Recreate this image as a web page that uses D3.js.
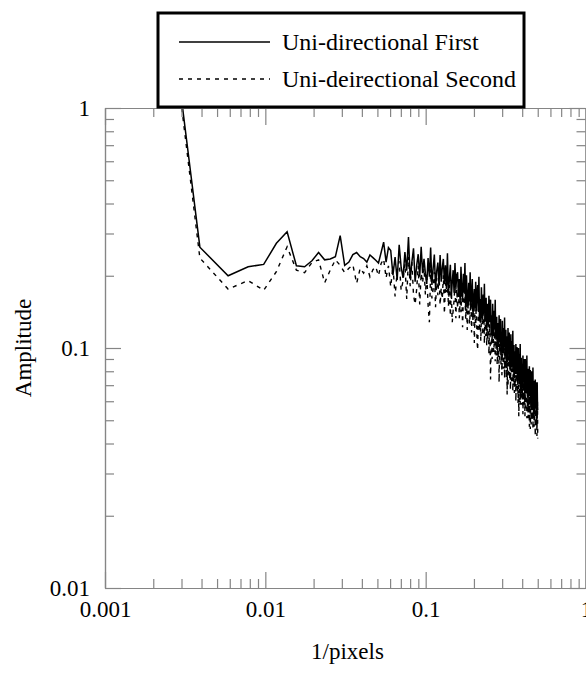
<!DOCTYPE html>
<html>
<head>
<meta charset="utf-8">
<script src="https://cdn.jsdelivr.net/npm/d3@7"></script>
<style>
  html, body { margin: 0; padding: 0; background: #fff; }
  svg { display: block; }
  text { font-family: "Liberation Serif", "Times New Roman", serif; fill: #000; }
</style>
</head>
<body>
<svg id="chart"></svg>
<script>
// FFT of a 512-pixel profile: bins k = 1..256, frequency k/512 (1/pixels)
const N_PIXELS = 512;

// Amplitude per bin (bin 1 lies above the frame)
const ampFirst = [
  11, 0.263, 0.200, 0.218, 0.223, 0.273, 0.305, 0.220, 0.218, 0.231,
  0.250, 0.233, 0.235, 0.240, 0.294, 0.221, 0.228, 0.245, 0.250, 0.240,
  0.236, 0.228, 0.244, 0.238, 0.232, 0.226, 0.250, 0.276, 0.228, 0.262,
  0.255, 0.201, 0.239, 0.192, 0.269, 0.217, 0.196, 0.251, 0.210, 0.290,
  0.194, 0.228, 0.260, 0.189, 0.221, 0.246, 0.198, 0.264, 0.205, 0.235,
  0.204, 0.185, 0.237, 0.198, 0.262, 0.183, 0.215, 0.245, 0.178, 0.209,
  0.227, 0.183, 0.244, 0.189, 0.216, 0.235, 0.185, 0.221, 0.176, 0.248,
  0.166, 0.195, 0.222, 0.162, 0.189, 0.211, 0.170, 0.226, 0.176, 0.201,
  0.207, 0.163, 0.194, 0.155, 0.218, 0.176, 0.159, 0.204, 0.170, 0.226,
  0.143, 0.201, 0.162, 0.146, 0.187, 0.156, 0.207, 0.145, 0.170, 0.194,
  0.135, 0.158, 0.176, 0.142, 0.189, 0.147, 0.168, 0.183, 0.143, 0.198,
  0.129, 0.160, 0.128, 0.179, 0.144, 0.131, 0.167, 0.140, 0.185, 0.129,
  0.142, 0.162, 0.118, 0.138, 0.153, 0.124, 0.165, 0.128, 0.146, 0.159,
  0.114, 0.137, 0.109, 0.153, 0.124, 0.112, 0.143, 0.120, 0.159, 0.111,
  0.118, 0.135, 0.098, 0.114, 0.127, 0.103, 0.137, 0.106, 0.122, 0.132,
  0.097, 0.116, 0.092, 0.130, 0.105, 0.095, 0.121, 0.101, 0.134, 0.094,
  0.104, 0.119, 0.086, 0.101, 0.112, 0.090, 0.121, 0.094, 0.107, 0.116,
  0.085, 0.102, 0.081, 0.114, 0.092, 0.083, 0.107, 0.089, 0.118, 0.082,
  0.090, 0.103, 0.075, 0.087, 0.097, 0.078, 0.104, 0.081, 0.093, 0.101,
  0.075, 0.089, 0.071, 0.100, 0.081, 0.073, 0.094, 0.078, 0.104, 0.072,
  0.080, 0.091, 0.066, 0.078, 0.086, 0.070, 0.093, 0.072, 0.082, 0.090,
  0.067, 0.080, 0.064, 0.090, 0.072, 0.065, 0.084, 0.070, 0.093, 0.065,
  0.072, 0.082, 0.060, 0.070, 0.078, 0.063, 0.084, 0.065, 0.074, 0.081,
  0.060, 0.071, 0.057, 0.080, 0.065, 0.058, 0.075, 0.063, 0.083, 0.058,
  0.064, 0.073, 0.053, 0.062, 0.069, 0.056, 0.074, 0.058, 0.066, 0.072,
  0.054, 0.064, 0.051, 0.072, 0.058, 0.055
];

const ampSecond = [
  11, 0.237, 0.176, 0.191, 0.174, 0.208, 0.264, 0.211, 0.206, 0.227,
  0.233, 0.187, 0.211, 0.233, 0.221, 0.206, 0.215, 0.222, 0.186, 0.215,
  0.205, 0.220, 0.198, 0.212, 0.218, 0.200, 0.225, 0.235, 0.196, 0.220,
  0.180, 0.220, 0.164, 0.208, 0.230, 0.174, 0.190, 0.224, 0.160, 0.240,
  0.181, 0.228, 0.166, 0.152, 0.176, 0.220, 0.152, 0.205, 0.187, 0.215,
  0.167, 0.204, 0.152, 0.128, 0.213, 0.161, 0.176, 0.207, 0.148, 0.196,
  0.166, 0.208, 0.151, 0.178, 0.160, 0.201, 0.139, 0.187, 0.171, 0.196,
  0.149, 0.183, 0.136, 0.173, 0.128, 0.144, 0.158, 0.186, 0.133, 0.176,
  0.146, 0.184, 0.133, 0.157, 0.141, 0.177, 0.122, 0.165, 0.151, 0.173,
  0.131, 0.160, 0.119, 0.151, 0.167, 0.126, 0.138, 0.162, 0.116, 0.154,
  0.128, 0.161, 0.105, 0.138, 0.124, 0.156, 0.108, 0.098, 0.132, 0.165,
  0.117, 0.143, 0.107, 0.135, 0.150, 0.113, 0.124, 0.146, 0.104, 0.138,
  0.112, 0.140, 0.102, 0.120, 0.108, 0.136, 0.094, 0.126, 0.115, 0.074,
  0.099, 0.121, 0.090, 0.114, 0.127, 0.096, 0.105, 0.123, 0.088, 0.117,
  0.093, 0.117, 0.085, 0.100, 0.090, 0.113, 0.072, 0.105, 0.096, 0.110,
  0.085, 0.103, 0.077, 0.098, 0.108, 0.082, 0.089, 0.105, 0.075, 0.100,
  0.082, 0.103, 0.075, 0.088, 0.064, 0.099, 0.069, 0.092, 0.084, 0.097,
  0.074, 0.090, 0.067, 0.085, 0.094, 0.071, 0.078, 0.092, 0.066, 0.087,
  0.072, 0.090, 0.065, 0.077, 0.069, 0.087, 0.060, 0.081, 0.074, 0.085,
  0.065, 0.079, 0.059, 0.075, 0.052, 0.063, 0.068, 0.081, 0.058, 0.076,
  0.063, 0.080, 0.058, 0.068, 0.061, 0.077, 0.053, 0.071, 0.065, 0.075,
  0.058, 0.070, 0.052, 0.067, 0.074, 0.056, 0.061, 0.072, 0.051, 0.068,
  0.056, 0.070, 0.051, 0.060, 0.054, 0.068, 0.047, 0.063, 0.058, 0.046,
  0.052, 0.064, 0.048, 0.060, 0.067, 0.050, 0.055, 0.065, 0.046, 0.061,
  0.051, 0.064, 0.047, 0.055, 0.050, 0.062, 0.043, 0.058, 0.053, 0.060,
  0.047, 0.057, 0.043, 0.054, 0.060, 0.042
];

const seriesNames = ['Uni-directional First', 'Uni-deirectional Second'];

const xMajor = [0.001, 0.01, 0.1, 1];
const yMajor = [0.01, 0.1, 1];
const xTickLabels = ['0.001', '0.01', '0.1', '1'];
const yTickLabels = ['0.01', '0.1', '1'];

// ── Geometry ────────────────────────────────────────────────────────────────
const W = 586, H = 673;
const plot = { left: 105, right: 586, top: 108, bottom: 588 };
const AXIS_GREY = '#858585';
const FONT = 23;

const svg = d3.select('#chart').attr('width', W).attr('height', H);

const x = d3.scaleLog().domain([0.001, 1]).range([plot.left, plot.right]);
const y = d3.scaleLog().domain([0.01, 1]).range([plot.bottom, plot.top]);

// minor ticks: 2..9 within every decade
function minors(lo, hi) {
  const out = [];
  for (let d = lo; d < hi; d *= 10) for (let m = 2; m <= 9; m++) out.push(d * m);
  return out;
}
const xMinor = minors(0.001, 1);
const yMinor = minors(0.01, 1);

// ── Data lines (clipped to the frame) ───────────────────────────────────────
svg.append('clipPath').attr('id', 'frame')
  .append('rect')
    .attr('x', plot.left).attr('y', plot.top)
    .attr('width', plot.right - plot.left).attr('height', plot.bottom - plot.top);

const toPoints = amps => amps.map((a, i) => ({ f: (i + 1) / N_PIXELS, a }));

const line = d3.line()
  .x(d => x(d.f))
  .y(d => y(d.a));

const lines = svg.append('g').attr('clip-path', 'url(#frame)');

lines.append('path')
  .datum(toPoints(ampSecond))
  .attr('d', line)
  .attr('fill', 'none')
  .attr('stroke', '#000')
  .attr('stroke-width', 1.4)
  .attr('stroke-dasharray', '4,5');

lines.append('path')
  .datum(toPoints(ampFirst))
  .attr('d', line)
  .attr('fill', 'none')
  .attr('stroke', '#000')
  .attr('stroke-width', 1.5);

// ── Axes: ticks point inward on all four sides ─────────────────────────────
function styleAxis(g) {
  g.selectAll('path.domain').attr('stroke', AXIS_GREY).attr('stroke-width', 1.2);
  g.selectAll('.tick line').attr('stroke', AXIS_GREY).attr('stroke-width', 1.2);
  g.selectAll('.tick text')
    .attr('font-family', '"Liberation Serif", "Times New Roman", serif')
    .attr('font-size', FONT)
    .attr('fill', '#000');
}

// bottom
svg.append('g').attr('transform', `translate(0,${plot.bottom})`)
  .call(d3.axisBottom(x).tickValues(xMinor).tickSize(-9).tickSizeOuter(0).tickFormat(''))
  .call(styleAxis);
svg.append('g').attr('transform', `translate(0,${plot.bottom})`)
  .call(d3.axisBottom(x).tickValues(xMajor).tickSize(-16).tickSizeOuter(0)
    .tickPadding(13).tickFormat((d, i) => xTickLabels[i]))
  .call(styleAxis);

// top
svg.append('g').attr('transform', `translate(0,${plot.top})`)
  .call(d3.axisTop(x).tickValues(xMinor).tickSize(-9).tickSizeOuter(0).tickFormat(''))
  .call(styleAxis);
svg.append('g').attr('transform', `translate(0,${plot.top})`)
  .call(d3.axisTop(x).tickValues(xMajor).tickSize(-17).tickSizeOuter(0).tickFormat(''))
  .call(styleAxis);

// left
svg.append('g').attr('transform', `translate(${plot.left},0)`)
  .call(d3.axisLeft(y).tickValues(yMinor).tickSize(-9).tickSizeOuter(0).tickFormat(''))
  .call(styleAxis);
svg.append('g').attr('transform', `translate(${plot.left},0)`)
  .call(d3.axisLeft(y).tickValues(yMajor).tickSize(-16).tickSizeOuter(0)
    .tickPadding(15).tickFormat((d, i) => yTickLabels[i]))
  .call(styleAxis);

// right
svg.append('g').attr('transform', `translate(${plot.right - 0.5},0)`)
  .call(d3.axisRight(y).tickValues(yMinor).tickSize(-9).tickSizeOuter(0).tickFormat(''))
  .call(styleAxis);
svg.append('g').attr('transform', `translate(${plot.right - 0.5},0)`)
  .call(d3.axisRight(y).tickValues(yMajor).tickSize(-16).tickSizeOuter(0).tickFormat(''))
  .call(styleAxis);

// ── Axis titles ─────────────────────────────────────────────────────────────
svg.append('text')
  .attr('x', (plot.left + plot.right) / 2 + 2)
  .attr('y', 659)
  .attr('text-anchor', 'middle')
  .attr('font-size', FONT)
  .text('1/pixels');

svg.append('text')
  .attr('transform', `translate(31,${(plot.top + plot.bottom) / 2}) rotate(-90)`)
  .attr('text-anchor', 'middle')
  .attr('font-size', FONT)
  .text('Amplitude');

// ── Legend box (sits on the top of the frame) ──────────────────────────────
const legend = svg.append('g');
legend.append('rect')
  .attr('x', 158).attr('y', 13)
  .attr('width', 366).attr('height', 94)
  .attr('fill', '#fff')
  .attr('stroke', '#000')
  .attr('stroke-width', 3);

const legendRows = [
  { name: seriesNames[0], dash: null, y: 42 },
  { name: seriesNames[1], dash: '4,5', y: 79 }
];

legend.selectAll('line.key')
  .data(legendRows)
  .join('line')
    .attr('class', 'key')
    .attr('x1', 179).attr('x2', 270)
    .attr('y1', d => d.y).attr('y2', d => d.y)
    .attr('stroke', '#000')
    .attr('stroke-width', 1.5)
    .attr('stroke-dasharray', d => d.dash);

legend.selectAll('text.key')
  .data(legendRows)
  .join('text')
    .attr('class', 'key')
    .attr('x', 282)
    .attr('y', d => d.y + 8)
    .attr('font-size', 24)
    .text(d => d.name);
</script>
</body>
</html>
